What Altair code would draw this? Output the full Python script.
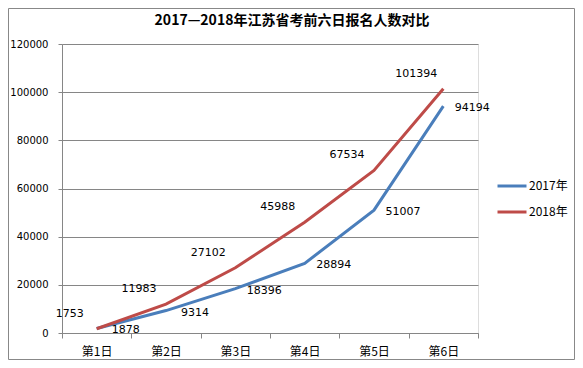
import altair as alt
import pandas as pd

title_text = "2017—2018年江苏省考前六日报名人数对比"
days = ["第1日", "第2日", "第3日", "第4日", "第5日", "第6日"]
v2017 = [1878, 9314, 18396, 28894, 51007, 94194]
v2018 = [1753, 11983, 27102, 45988, 67534, 101394]
series = ["2017年", "2018年"]
colors = ["#4a7ebb", "#be4b48"]
y_ticks = [0, 20000, 40000, 60000, 80000, 100000, 120000]

rows = []
for d, a, b in zip(days, v2017, v2018):
    rows.append({"day": d, "series": series[0], "value": a})
    rows.append({"day": d, "series": series[1], "value": b})
df = pd.DataFrame(rows)

NUM_FONT = "DejaVu Sans"
CJK_FONT = "Noto Sans CJK SC"

x_enc = alt.X("day:N", sort=days, title=None,
              scale=alt.Scale(paddingInner=0, paddingOuter=0),
              axis=alt.Axis(labelAngle=0, tickBand="extent", tickSize=5,
                            labelPadding=8, labelFont=CJK_FONT, labelFontSize=12,
                            labelColor="#000000", tickColor="#868686",
                            domainColor="#868686", grid=False))
y_enc = alt.Y("value:Q", title=None,
              scale=alt.Scale(domain=[0, 120000], nice=False),
              axis=alt.Axis(values=y_ticks, format="d", tickSize=4, labelPadding=10,
                            labelFont=NUM_FONT, labelFontSize=10, labelColor="#000000",
                            tickColor="#868686", domainColor="#868686",
                            gridColor="#868686", grid=True))
color_enc = alt.Color("series:N", scale=alt.Scale(domain=series, range=colors),
                      legend=alt.Legend(title=None, orient="none", legendX=434, legendY=126,
                                        symbolType="stroke", symbolSize=841,
                                        symbolStrokeWidth=3, labelFont=CJK_FONT,
                                        labelFontSize=12, labelColor="#000000",
                                        rowPadding=4, labelOffset=1))

base = alt.Chart(df)
lines = base.mark_line(strokeWidth=3).encode(x=x_enc, y=y_enc, color=color_enc)

lab17 = base.transform_filter(alt.datum.series == series[0]).mark_text(
    dx=29, dy=2, fontSize=11, font=NUM_FONT, color="#000000"
).encode(x=alt.X("day:N", sort=days), y="value:Q", text="value:Q")
lab18 = base.transform_filter(alt.datum.series == series[1]).mark_text(
    dx=-27, dy=-15, fontSize=11, font=NUM_FONT, color="#000000"
).encode(x=alt.X("day:N", sort=days), y="value:Q", text="value:Q")

title = alt.Chart(alt.Data(values=[{"t": title_text}])).mark_text(
    font=CJK_FONT, fontSize=14, fontWeight="bold", color="#000000",
    align="center", baseline="middle"
).encode(x=alt.value(230), y=alt.value(-23), text="t:N")

border = alt.Chart(alt.Data(values=[{"a": 1}])).mark_rect(
    fill=None, stroke="#888888", strokeWidth=1
).encode(x=alt.value(-53.5), x2=alt.value(512.5), y=alt.value(-35.5), y2=alt.value(315.5))

chart = alt.layer(lines, lab17, lab18, title, border).properties(
    width=416, height=289,
    autosize=alt.AutoSizeParams(type="none"),
    padding={"left": 54, "top": 36, "right": 97, "bottom": 27},
).configure_view(stroke=None).configure(background="#ffffff")

chart.save("out.html", embed_options={"renderer": "svg", "actions": False})
